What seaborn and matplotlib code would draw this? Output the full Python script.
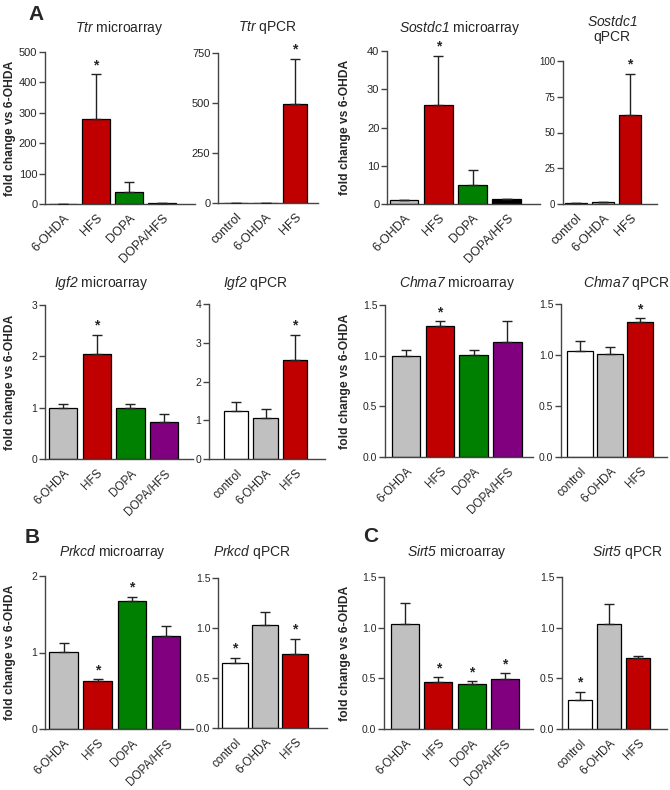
import matplotlib
matplotlib.use('Agg')
import matplotlib.pyplot as plt
import seaborn as sns

# groups and colours
micro_groups = ['6-OHDA', 'HFS', 'DOPA', 'DOPA/HFS']
qpcr_groups = ['control', '6-OHDA', 'HFS']
micro_colors = ['#c0c0c0', '#c00000', '#008000', '#800080']
sost_micro_colors = ['#c0c0c0', '#c00000', '#008000', '#000000']
qpcr_colors = ['#ffffff', '#c0c0c0', '#c00000']

# values (mean, SEM, significance)
ttr_micro_mean = [1, 280, 38, 2]
ttr_micro_sem = [0.3, 147, 34, 1]
ttr_micro_sig = [0, 1, 0, 0]
ttr_qpcr_mean = [1, 1.5, 495]
ttr_qpcr_sem = [0.3, 0.5, 227]
ttr_qpcr_sig = [0, 0, 1]

sost_micro_mean = [1.0, 26, 5.0, 1.2]
sost_micro_sem = [0.1, 12.7, 4.0, 0.2]
sost_micro_sig = [0, 1, 0, 0]
sost_qpcr_mean = [0.8, 1.2, 62]
sost_qpcr_sem = [0.2, 0.4, 29]
sost_qpcr_sig = [0, 0, 1]

igf2_micro_mean = [1.0, 2.05, 0.99, 0.73]
igf2_micro_sem = [0.08, 0.37, 0.09, 0.14]
igf2_micro_sig = [0, 1, 0, 0]
igf2_qpcr_mean = [1.25, 1.07, 2.55]
igf2_qpcr_sem = [0.23, 0.23, 0.65]
igf2_qpcr_sig = [0, 0, 1]

chma7_micro_mean = [1.0, 1.29, 1.01, 1.13]
chma7_micro_sem = [0.06, 0.05, 0.05, 0.21]
chma7_micro_sig = [0, 1, 0, 0]
chma7_qpcr_mean = [1.04, 1.01, 1.32]
chma7_qpcr_sem = [0.10, 0.07, 0.04]
chma7_qpcr_sig = [0, 0, 1]

prkcd_micro_mean = [1.01, 0.63, 1.67, 1.21]
prkcd_micro_sem = [0.12, 0.02, 0.06, 0.13]
prkcd_micro_sig = [0, 1, 1, 0]
prkcd_qpcr_mean = [0.65, 1.03, 0.74]
prkcd_qpcr_sem = [0.05, 0.13, 0.15]
prkcd_qpcr_sig = [1, 0, 1]

sirt5_micro_mean = [1.04, 0.46, 0.44, 0.49]
sirt5_micro_sem = [0.20, 0.05, 0.03, 0.06]
sirt5_micro_sig = [0, 1, 1, 1]
sirt5_qpcr_mean = [0.29, 1.04, 0.70]
sirt5_qpcr_sem = [0.08, 0.19, 0.02]
sirt5_qpcr_sig = [1, 0, 0]

# y ticks
ticks_ttr_micro = [0, 100, 200, 300, 400, 500]
ticks_ttr_qpcr = [0, 250, 500, 750]
ticks_sost_micro = [0, 10, 20, 30, 40]
ticks_sost_qpcr = [0, 25, 50, 75, 100]
ticks_igf2_micro = [0, 1, 2, 3]
ticks_igf2_qpcr = [0, 1, 2, 3, 4]
ticks_half = [0.0, 0.5, 1.0, 1.5]
ticks_prkcd_micro = [0, 1, 2]

W, H = 670, 790

sns.set_style('ticks')
plt.rcParams['font.family'] = ['Liberation Sans', 'DejaVu Sans']
plt.rcParams['mathtext.fontset'] = 'custom'
# gene names are fully italic, digits included
plt.rcParams['mathtext.it'] = 'Liberation Sans:italic'
plt.rcParams['mathtext.rm'] = 'Liberation Sans:italic'

fig = plt.figure(figsize=(W / 100, H / 100), dpi=100)


def panel(l, r, top, bot, c0, step, groups, means, sems, colors, sig, yticks,
          fmt, xfs, yfs, ylabel=None):
    ax = fig.add_axes([l / W, 1 - bot / H, (r - l) / W, (bot - top) / H])
    sns.barplot(x=groups, y=means, hue=groups, palette=colors, legend=False,
                width=0.84, edgecolor='black', linewidth=0.9, saturation=1, ax=ax)
    n = len(groups)
    ax.errorbar(range(n), means, yerr=[[0] * n, sems], fmt='none', ecolor='#222222',
                elinewidth=1, capsize=3.5, capthick=1, zorder=5)
    for i in range(n):
        if sig[i]:
            ax.annotate('*', (i, means[i] + sems[i]), xytext=(0, 1.5),
                        textcoords='offset points', ha='center', va='bottom',
                        fontsize=10, fontweight='bold')
    left = (l - c0) / step
    ax.set_xlim(left, left + (r - l) / step)
    ax.set_ylim(0, yticks[-1])
    ax.set_yticks(yticks)
    ax.set_yticklabels([fmt % t for t in yticks], fontsize=yfs)
    ax.set_xticks(range(n))
    ax.set_xticklabels(groups, rotation=45, ha='right', rotation_mode='anchor',
                       fontsize=xfs)
    ax.tick_params(axis='x', length=0, pad=6)
    ax.tick_params(axis='y', length=4, width=1, color='#444444', pad=1.5)
    for s in ['left', 'bottom']:
        ax.spines[s].set_color('#444444')
        ax.spines[s].set_linewidth(1)
    sns.despine(ax=ax)
    ax.set_xlabel('')
    ax.set_ylabel('')
    if ylabel is not None:
        fig.text(ylabel / W, 1 - (top + bot) / 2 / H, 'fold change vs 6-OHDA',
                 rotation=90, ha='center', va='center', fontsize=8.7,
                 fontweight='bold')
    return ax


# row 1
panel(45, 195, 52, 204, 63, 33, micro_groups, ttr_micro_mean, ttr_micro_sem,
      micro_colors, ttr_micro_sig, ticks_ttr_micro, '%d', 9, 8, ylabel=10)
panel(218, 318, 53, 203, 236, 29.5, qpcr_groups, ttr_qpcr_mean, ttr_qpcr_sem,
      qpcr_colors, ttr_qpcr_sig, ticks_ttr_qpcr, '%d', 9, 8)
panel(387, 540, 51, 204, 404, 34.3, micro_groups, sost_micro_mean, sost_micro_sem,
      sost_micro_colors, sost_micro_sig, ticks_sost_micro, '%d', 9, 8, ylabel=345)
panel(563, 657, 61, 204, 576, 27, qpcr_groups, sost_qpcr_mean, sost_qpcr_sem,
      qpcr_colors, sost_qpcr_sig, ticks_sost_qpcr, '%d', 9, 7)

# row 2
panel(45, 193, 305, 459, 63, 33.7, micro_groups, igf2_micro_mean, igf2_micro_sem,
      micro_colors, igf2_micro_sig, ticks_igf2_micro, '%d', 8.5, 7.5, ylabel=10)
panel(209, 325, 304, 459, 236, 29.5, qpcr_groups, igf2_qpcr_mean, igf2_qpcr_sem,
      qpcr_colors, igf2_qpcr_sig, ticks_igf2_qpcr, '%d', 8.5, 7.5)
panel(385, 533, 305, 457, 406, 33.8, micro_groups, chma7_micro_mean, chma7_micro_sem,
      micro_colors, chma7_micro_sig, ticks_half, '%.1f', 8.5, 7.5, ylabel=345)
panel(561, 667, 304, 457, 580, 30, qpcr_groups, chma7_qpcr_mean, chma7_qpcr_sem,
      qpcr_colors, chma7_qpcr_sig, ticks_half, '%.1f', 8.5, 7.5)

# row 3
panel(45, 193, 576, 729, 63.5, 34.2, micro_groups, prkcd_micro_mean, prkcd_micro_sem,
      micro_colors, prkcd_micro_sig, ticks_prkcd_micro, '%d', 8.5, 7.5, ylabel=10)
panel(218, 327, 578, 728, 235, 30, qpcr_groups, prkcd_qpcr_mean, prkcd_qpcr_sem,
      qpcr_colors, prkcd_qpcr_sig, ticks_half, '%.1f', 8.5, 7.5)
panel(384, 533, 577, 729, 405, 33.3, micro_groups, sirt5_micro_mean, sirt5_micro_sem,
      micro_colors, sirt5_micro_sig, ticks_half, '%.1f', 8.5, 7.5, ylabel=345)
panel(562, 667, 577, 729, 580, 29, qpcr_groups, sirt5_qpcr_mean, sirt5_qpcr_sem,
      qpcr_colors, sirt5_qpcr_sig, ticks_half, '%.1f', 8.5, 7.5)

# titles
titles = [
    (119, 28, r'$\mathit{Ttr}$ microarray'),
    (268, 28, r'$\mathit{Ttr}$ qPCR'),
    (460, 28, r'$\mathit{Sostdc1}$ microarray'),
    (612, 21, r'$\mathit{Sostdc1}$'),
    (612, 37, 'qPCR'),
    (101, 283, r'$\mathit{Igf2}$ microarray'),
    (256, 283, r'$\mathit{Igf2}$ qPCR'),
    (457, 283, r'$\mathit{Chma7}$ microarray'),
    (626, 283, r'$\mathit{Chma7}$ qPCR'),
    (112, 552, r'$\mathit{Prkcd}$ microarray'),
    (252, 552, r'$\mathit{Prkcd}$ qPCR'),
    (457, 552, r'$\mathit{Sirt5}$ microarray'),
    (627, 552, r'$\mathit{Sirt5}$ qPCR'),
]
for x, y, t in titles:
    fig.text(x / W, 1 - y / H, t, ha='center', va='center', fontsize=10)

for x, y, t in [(28, 20, 'A'), (25, 543, 'B'), (363, 542, 'C')]:
    fig.text(x / W, 1 - y / H, t, ha='left', va='baseline', fontsize=15,
             fontweight='bold')

fig.savefig('out.png', dpi=100)
